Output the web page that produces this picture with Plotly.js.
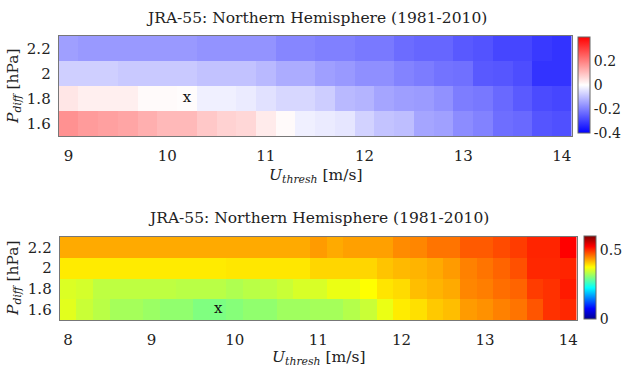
<!DOCTYPE html>
<html>
<head>
<meta charset="utf-8">
<script src="https://cdn.plot.ly/plotly-3.0.1.min.js"></script>
<style>html,body{margin:0;padding:0;background:#fff;}#chart{width:622px;height:369px;}</style>
</head>
<body>
<div id="chart"></div>
<script>
// ---- Data ----
const pdiff = [1.6, 1.8, 2.0, 2.2];
const uTop = [9.0,9.2,9.4,9.6,9.8,10.0,10.2,10.4,10.6,10.8,11.0,11.2,11.4,11.6,11.8,12.0,12.2,12.4,12.6,12.8,13.0,13.2,13.4,13.6,13.8,14.0];
const uBot = [8.0,8.2,8.4,8.6,8.8,9.0,9.2,9.4,9.6,9.8,10.0,10.2,10.4,10.6,10.8,11.0,11.2,11.4,11.6,11.8,12.0,12.2,12.4,12.6,12.8,13.0,13.2,13.4,13.6,13.8,14.0];

// Top panel (difference field), rows follow pdiff order
const top16 = [0.173,0.157,0.149,0.141,0.125,0.11,0.11,0.086,0.071,0.063,0.031,0.008,-0.024,-0.031,-0.039,-0.071,-0.094,-0.102,-0.141,-0.149,-0.18,-0.196,-0.227,-0.235,-0.267,-0.275];
const top18 = [0.04,0.025,0.025,0.025,0.008,0.008,0.005,-0.024,-0.024,-0.031,-0.047,-0.063,-0.063,-0.078,-0.11,-0.118,-0.141,-0.152,-0.157,-0.173,-0.204,-0.212,-0.235,-0.259,-0.282,-0.29];
const top20 = [-0.075,-0.075,-0.075,-0.085,-0.085,-0.085,-0.085,-0.095,-0.095,-0.095,-0.11,-0.13,-0.13,-0.15,-0.16,-0.175,-0.175,-0.195,-0.205,-0.22,-0.225,-0.26,-0.265,-0.28,-0.32,-0.32];
const top22 = [-0.15,-0.16,-0.16,-0.16,-0.16,-0.16,-0.16,-0.17,-0.17,-0.17,-0.17,-0.19,-0.19,-0.2,-0.2,-0.21,-0.21,-0.23,-0.24,-0.24,-0.26,-0.27,-0.29,-0.29,-0.31,-0.32];

// Bottom panel
const bot16 = [0.358,0.343,0.334,0.322,0.322,0.316,0.31,0.31,0.3,0.298,0.304,0.31,0.31,0.319,0.319,0.322,0.322,0.331,0.343,0.363,0.386,0.393,0.407,0.413,0.434,0.44,0.449,0.457,0.475,0.496,0.502];
const bot18 = [0.354,0.35,0.337,0.337,0.337,0.337,0.337,0.334,0.334,0.334,0.328,0.334,0.337,0.343,0.352,0.352,0.363,0.363,0.375,0.39,0.396,0.413,0.419,0.425,0.446,0.451,0.46,0.466,0.49,0.496,0.51];
const bot20 = [0.387,0.387,0.387,0.387,0.387,0.387,0.387,0.387,0.387,0.387,0.389,0.389,0.389,0.389,0.389,0.399,0.399,0.399,0.399,0.41,0.416,0.419,0.425,0.434,0.449,0.457,0.466,0.478,0.502,0.502,0.504];
const bot22 = [0.425,0.425,0.425,0.425,0.425,0.425,0.425,0.425,0.425,0.425,0.425,0.425,0.425,0.425,0.425,0.434,0.425,0.431,0.431,0.431,0.443,0.446,0.457,0.457,0.472,0.472,0.481,0.49,0.504,0.504,0.525];

// Markers ("x") of the optimum
const optTop = {u: 10.2, p: 1.8};
const optBot = {u: 9.8, p: 1.6};

const xTicksTop = [9,10,11,12,13,14];
const xTicksBot = [8,9,10,11,12,13,14];
const yTicks = [1.6,1.8,2,2.2];
const yTickText = ['1.6','1.8','2','2.2'];

const titleText = 'JRA-55: Northern Hemisphere (1981-2010)';
const xLabel = '<i>U</i><sub><i>thresh</i></sub> [m/s]';
const yLabel = '<i>P</i><sub><i>diff</i></sub> [hPa]';

// ---- Styles ----
const FONT = 'DejaVu Serif';
const W = 622, H = 369;
const px = v => v / W;
const py = v => 1 - v / H;

const bwr = [[0,'rgb(0,0,255)'],[0.5,'rgb(255,255,255)'],[1,'rgb(255,0,0)']];
const jet = [[0,'rgb(0,0,143)'],[0.125,'rgb(0,0,255)'],[0.375,'rgb(0,255,255)'],[0.625,'rgb(255,255,0)'],[0.875,'rgb(255,0,0)'],[1,'rgb(128,0,0)']];

const TS = 15;   // tick size
const CS = 14;   // colorbar tick size
const LS = 15.5; // title / label size

const traces = [
  {
    type: 'heatmap', x: uTop, y: pdiff, z: [top16, top18, top20, top22],
    colorscale: bwr, zmin: -0.4, zmax: 0.4, xaxis: 'x', yaxis: 'y',
    hoverinfo: 'none',
    colorbar: {
      x: px(578.3), xanchor: 'left', xpad: 0, ypad: 0,
      thickness: 12, thicknessmode: 'pixels',
      len: 96, lenmode: 'pixels', y: py(85), yanchor: 'middle',
      outlinecolor: '#666', outlinewidth: 1,
      tickvals: [-0.4,-0.2,0,0.2], ticktext: ['-0.4','-0.2','0','0.2'],
      ticks: '', ticklen: 0, tickfont: {family: FONT, size: CS, color: '#222'}
    }
  },
  {
    type: 'heatmap', x: uBot, y: pdiff, z: [bot16, bot18, bot20, bot22],
    colorscale: jet, zmin: 0, zmax: 0.6, xaxis: 'x2', yaxis: 'y2',
    hoverinfo: 'none',
    colorbar: {
      x: px(584.3), xanchor: 'left', xpad: 0, ypad: 0,
      thickness: 12, thicknessmode: 'pixels',
      len: 83, lenmode: 'pixels', y: py(277.5), yanchor: 'middle',
      outlinecolor: '#666', outlinewidth: 1,
      tickvals: [0,0.5], ticktext: ['0','0.5'],
      ticks: '', ticklen: 0, tickfont: {family: FONT, size: CS, color: '#222'}
    }
  },
  {
    type: 'scatter', mode: 'text', x: [optTop.u], y: [optTop.p], text: ['x'],
    textfont: {family: FONT, size: TS, color: '#111'}, xaxis: 'x', yaxis: 'y',
    showlegend: false, hoverinfo: 'none'
  },
  {
    type: 'scatter', mode: 'text', x: [optBot.u], y: [optBot.p], text: ['x'],
    textfont: {family: FONT, size: TS, color: '#111'}, xaxis: 'x2', yaxis: 'y2',
    showlegend: false, hoverinfo: 'none'
  }
];

const axCommon = {
  showgrid: false, zeroline: false, showline: true, mirror: true,
  linecolor: '#777', linewidth: 1, ticks: '',
  tickfont: {family: FONT, size: TS, color: '#222'}
};

const layout = {
  width: W, height: H,
  margin: {l: 0, r: 0, t: 0, b: 0},
  paper_bgcolor: '#fff', plot_bgcolor: '#fff',
  showlegend: false,
  font: {family: FONT, color: '#222'},
  xaxis: Object.assign({}, axCommon, {domain: [px(58.7), px(571.7)], range: [8.9, 14.1], tickvals: xTicksTop, anchor: 'y', ticklabelstandoff: 6}),
  yaxis: Object.assign({}, axCommon, {domain: [py(136), py(36)], range: [1.5, 2.3], tickvals: yTicks, ticktext: yTickText, anchor: 'x', ticklabelstandoff: 4}),
  xaxis2: Object.assign({}, axCommon, {domain: [px(59.7), px(576.7)], range: [7.9, 14.1], tickvals: xTicksBot, anchor: 'y2', ticklabelstandoff: 6}),
  yaxis2: Object.assign({}, axCommon, {domain: [py(320), py(237)], range: [1.5, 2.3], tickvals: yTicks, ticktext: yTickText, anchor: 'x2', ticklabelstandoff: 4}),
  annotations: [
    {text: titleText, xref: 'paper', yref: 'paper', x: px(316), y: py(18), xanchor: 'center', yanchor: 'middle', showarrow: false, font: {family: FONT, size: LS, color: '#222'}},
    {text: titleText, xref: 'paper', yref: 'paper', x: px(318), y: py(218), xanchor: 'center', yanchor: 'middle', showarrow: false, font: {family: FONT, size: LS, color: '#222'}},
    {text: xLabel, xref: 'paper', yref: 'paper', x: px(315), y: py(176), xanchor: 'center', yanchor: 'middle', showarrow: false, font: {family: FONT, size: LS, color: '#222'}},
    {text: xLabel, xref: 'paper', yref: 'paper', x: px(318), y: py(358), xanchor: 'center', yanchor: 'middle', showarrow: false, font: {family: FONT, size: LS, color: '#222'}},
    {text: yLabel, xref: 'paper', yref: 'paper', x: px(14), y: py(86), xanchor: 'center', yanchor: 'middle', textangle: -90, showarrow: false, font: {family: FONT, size: LS, color: '#222'}},
    {text: yLabel, xref: 'paper', yref: 'paper', x: px(14), y: py(278), xanchor: 'center', yanchor: 'middle', textangle: -90, showarrow: false, font: {family: FONT, size: LS, color: '#222'}}
  ]
};

Plotly.newPlot('chart', traces, layout, {staticPlot: true, displayModeBar: false});
</script>
</body>
</html>
